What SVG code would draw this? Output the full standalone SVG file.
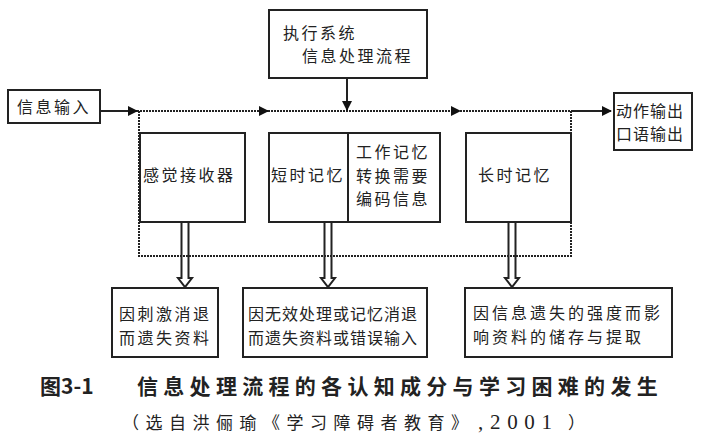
<svg xmlns="http://www.w3.org/2000/svg" width="706" height="443" viewBox="0 0 706 443">
<defs>
<style>
.box{fill:#fff;stroke:#222;stroke-width:2}
.t{font-family:"Noto Sans CJK SC","Liberation Sans",sans-serif;font-size:16px;fill:#222}
.s25{letter-spacing:2.5px}
.s1{letter-spacing:1px}
.s3{letter-spacing:3px}
.dot{fill:none;stroke:#222;stroke-width:2;stroke-dasharray:2 1}
.sol{fill:none;stroke:#222;stroke-width:2}
.cap{font-family:"Noto Sans CJK SC","Liberation Sans",sans-serif;font-size:21px;font-weight:bold;fill:#222}
.sub{font-family:"Liberation Serif","Noto Sans CJK SC",serif;font-size:17px;fill:#222}
.num{font-size:21px}
</style>
<marker id="ah" markerWidth="10" markerHeight="10" refX="9" refY="5" orient="auto" markerUnits="userSpaceOnUse">
<path d="M0,0 L10,5 L0,10 Z" fill="#111"/>
</marker>
</defs>
<rect width="706" height="443" fill="#fff"/>

<g id="connectors">
<line class="sol" x1="100" y1="111" x2="137" y2="111" marker-end="url(#ah)"/>
<line class="dot" x1="137" y1="111" x2="268" y2="111" marker-end="url(#ah)"/>
<line class="dot" x1="268" y1="111" x2="460" y2="111" marker-end="url(#ah)"/>
<line class="dot" x1="460" y1="111" x2="571" y2="111"/>
<line class="sol" x1="571" y1="111" x2="611" y2="111" marker-end="url(#ah)"/>
<line class="sol" x1="347" y1="78" x2="347" y2="110" marker-end="url(#ah)"/>
<polyline class="dot" points="139,111 139,256 571,256 571,111"/>
<path class="sol" stroke-width="1.6" fill="#fff" d="M181.5,222 V278 H178 L185,287 L192,278 H188.5 V222"/>
<path class="sol" stroke-width="1.6" fill="#fff" d="M324.5,222 V278 H321 L328,287 L335,278 H331.5 V222"/>
<path class="sol" stroke-width="1.6" fill="#fff" d="M508.5,222 V278 H505 L512,287 L519,278 H515.5 V222"/>
</g>

<g id="exec">
<rect class="box" x="269" y="10" width="158" height="68"/>
<text class="t s25" x="283" y="39">执行系统</text>
<text class="t s25" x="302" y="62">信息处理流程</text>
</g>

<g id="input">
<rect class="box" x="8" y="90" width="92" height="33"/>
<text class="t s25" x="17" y="113">信息输入</text>
</g>

<g id="output">
<rect class="box" x="614" y="93" width="78" height="57"/>
<text class="t s1" x="616" y="117">动作输出</text>
<text class="t s1" x="616" y="140">口语输出</text>
</g>

<g id="sensory">
<rect class="box" x="140" y="133" width="105" height="89"/>
<text class="t s25" x="143" y="181">感觉接收器</text>
</g>

<g id="stm">
<rect class="box" x="269" y="133" width="171" height="89"/>
<line class="sol" x1="348" y1="133" x2="348" y2="222"/>
<text class="t s25" x="271" y="181">短时记忆</text>
<text class="t s25" x="356" y="158">工作记忆</text>
<text class="t s25" x="356" y="182">转换需要</text>
<text class="t s25" x="356" y="205">编码信息</text>
</g>

<g id="ltm">
<rect class="box" x="466" y="133" width="105" height="89"/>
<text class="t s25" x="478" y="181">长时记忆</text>
</g>

<g id="loss1">
<rect class="box" x="112" y="288" width="106" height="69"/>
<text class="t s25" x="119" y="320">因刺激消退</text>
<text class="t s25" x="119" y="344">而遗失资料</text>
</g>

<g id="loss2">
<rect class="box" x="243" y="288" width="184" height="69"/>
<text class="t s1" x="248" y="320">因无效处理或记忆消退</text>
<text class="t s1" x="248" y="344">而遗失资料或错误输入</text>
</g>

<g id="loss3">
<rect class="box" x="465" y="288" width="207" height="69"/>
<text class="t s3" x="473" y="319">因信息遗失的强度而影</text>
<text class="t s3" x="473" y="343">响资料的储存与提取</text>
</g>

<g id="caption">
<text class="cap" x="40" y="394">图3-1</text>
<text class="cap" x="137" y="394" letter-spacing="5.3">信息处理流程的各认知成分与学习困难的发生</text>
<text class="sub" x="122" y="429" letter-spacing="6.5">（选自洪俪瑜《学习障碍者教育》</text>
<text class="sub num" x="478" y="429" textLength="74" lengthAdjust="spacing">,2001</text>
<text class="sub" x="568" y="429">）</text>
</g>
</svg>
